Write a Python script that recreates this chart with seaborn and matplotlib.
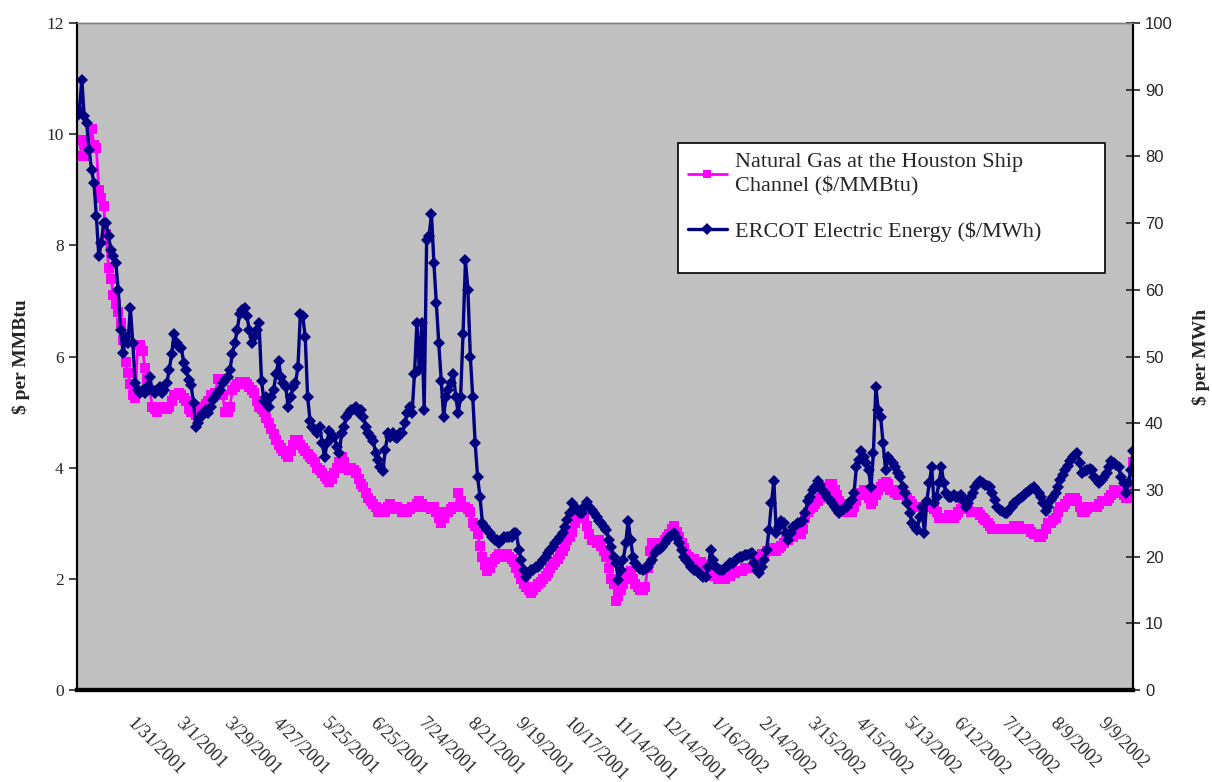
import numpy as np
import pandas as pd
import matplotlib
matplotlib.use("Agg")
import matplotlib.pyplot as plt
import matplotlib.transforms as mtransforms
from matplotlib.patches import Rectangle
import seaborn as sns

# daily prices, one row = 20 trading days
gas = [
    9.9, 9.9, 9.6, 9.6, 9.8, 9.9, 10.1, 9.8, 9.75, 9.0, 8.85, 8.7, 8.2, 7.6, 7.4, 7.1, 6.95, 6.8, 6.6, 6.3,
    5.9, 5.7, 5.5, 5.3, 5.25, 6.2, 6.2, 6.1, 5.8, 5.6, 5.4, 5.1, 5.05, 5.0, 5.05, 5.1, 5.1, 5.05, 5.1, 5.2,
    5.3, 5.3, 5.35, 5.3, 5.25, 5.2, 5.05, 5.0, 5.0, 4.95, 5.0, 5.05, 5.1, 5.15, 5.2, 5.3, 5.3, 5.35, 5.6, 5.6,
    5.3, 5.0, 5.0, 5.1, 5.4, 5.45, 5.5, 5.55, 5.5, 5.55, 5.5, 5.45, 5.4, 5.35, 5.2, 5.1, 5.05, 5.0, 4.9, 4.8,
    4.7, 4.6, 4.5, 4.4, 4.35, 4.3, 4.25, 4.2, 4.3, 4.4, 4.5, 4.5, 4.4, 4.35, 4.3, 4.25, 4.2, 4.15, 4.1, 4.0,
    3.95, 3.9, 3.85, 3.8, 3.75, 3.8, 3.9, 4.0, 4.1, 4.2, 4.1, 4.0, 3.95, 4.0, 3.95, 3.9, 3.8, 3.7, 3.65, 3.55,
    3.45, 3.4, 3.35, 3.3, 3.2, 3.2, 3.25, 3.2, 3.3, 3.35, 3.3, 3.25, 3.3, 3.25, 3.2, 3.25, 3.2, 3.25, 3.3, 3.3,
    3.35, 3.4, 3.35, 3.3, 3.3, 3.3, 3.25, 3.3, 3.2, 3.1, 3.0, 3.1, 3.2, 3.2, 3.25, 3.3, 3.3, 3.55, 3.4, 3.3,
    3.3, 3.25, 3.2, 3.0, 2.95, 2.8, 2.6, 2.4, 2.25, 2.15, 2.2, 2.3, 2.35, 2.4, 2.45, 2.4, 2.4, 2.45, 2.4, 2.35,
    2.3, 2.2, 2.1, 2.0, 1.9, 1.85, 1.8, 1.75, 1.8, 1.85, 1.9, 1.95, 2.0, 2.05, 2.1, 2.2, 2.25, 2.3, 2.35, 2.45,
    2.5, 2.6, 2.7, 2.75, 2.85, 3.0, 3.1, 3.2, 3.2, 3.1, 2.95, 2.8, 2.7, 2.7, 2.65, 2.7, 2.6, 2.5, 2.4, 2.2,
    2.0, 1.9, 1.6, 1.7, 1.8, 1.9, 2.0, 2.1, 2.15, 2.0, 1.9, 1.85, 1.8, 1.8, 1.85, 2.2, 2.5, 2.65, 2.6, 2.6,
    2.65, 2.65, 2.7, 2.75, 2.8, 2.9, 2.95, 2.85, 2.75, 2.65, 2.55, 2.45, 2.4, 2.35, 2.35, 2.3, 2.3, 2.3, 2.25, 2.2,
    2.15, 2.1, 2.05, 2.05, 2.0, 2.0, 2.0, 2.0, 2.05, 2.05, 2.1, 2.1, 2.15, 2.15, 2.15, 2.2, 2.2, 2.2, 2.2, 2.3,
    2.35, 2.4, 2.45, 2.45, 2.5, 2.5, 2.5, 2.55, 2.5, 2.55, 2.6, 2.65, 2.7, 2.7, 2.75, 2.75, 2.8, 2.8, 2.8, 2.9,
    3.1, 3.2, 3.25, 3.3, 3.35, 3.4, 3.45, 3.55, 3.6, 3.65, 3.7, 3.7, 3.6, 3.5, 3.4, 3.35, 3.3, 3.2, 3.2, 3.2,
    3.3, 3.4, 3.5, 3.55, 3.6, 3.55, 3.45, 3.35, 3.4, 3.5, 3.6, 3.65, 3.7, 3.75, 3.7, 3.6, 3.6, 3.55, 3.5, 3.5,
    3.5, 3.5, 3.45, 3.4, 3.35, 3.3, 3.3, 3.3, 3.3, 3.3, 3.3, 3.3, 3.3, 3.25, 3.2, 3.1, 3.1, 3.1, 3.1, 3.15,
    3.1, 3.1, 3.15, 3.2, 3.25, 3.3, 3.3, 3.25, 3.2, 3.2, 3.2, 3.2, 3.15, 3.1, 3.05, 3.0, 2.95, 2.9, 2.9, 2.9,
    2.9, 2.9, 2.9, 2.9, 2.9, 2.9, 2.95, 2.95, 2.95, 2.9, 2.9, 2.9, 2.9, 2.85, 2.8, 2.8, 2.75, 2.75, 2.8, 2.9,
    3.0, 3.0, 3.05, 3.1, 3.2, 3.3, 3.3, 3.35, 3.4, 3.45, 3.45, 3.45, 3.4, 3.3, 3.2, 3.2, 3.25, 3.3, 3.3, 3.3,
    3.3, 3.35, 3.4, 3.4, 3.4, 3.45, 3.5, 3.6, 3.6, 3.55, 3.55, 3.5, 3.45, 3.45, 3.5, 4.1,
]

elec = [
    86, 87, 91.5, 86, 85, 81, 78, 76, 71, 65, 67, 70, 70, 68, 66, 65, 64, 60, 54, 50.5,
    53, 52, 57.3, 52, 46, 45, 44.5, 45, 44.5, 45.5, 46.9, 45, 44.5, 45, 45.5, 44.5, 45, 46, 48, 50.4,
    53.4, 52, 51.5, 51.3, 49, 48, 46.5, 45.7, 43, 39.5, 40, 41, 41.5, 42, 41.5, 42.5, 43.5, 44, 44.5, 45,
    46, 46.5, 47, 48, 50.4, 52, 54, 56.4, 57, 57.3, 56, 54, 52, 53, 54, 55, 46.4, 43.4, 44, 42.4,
    44, 45, 47.4, 49.4, 47, 46, 45.4, 42.4, 44, 45.4, 46, 48.4, 56.4, 56, 53, 43.9, 40.4, 39.5, 39, 38.5,
    39.4, 37, 34.9, 37, 38.9, 38, 37.9, 36.5, 35.5, 38.5, 39.5, 40.9, 41.5, 42, 42.2, 42.4, 41.5, 42, 41, 39.4,
    38.5, 38, 37.4, 35.5, 34.5, 33.5, 32.9, 36, 38.5, 38, 38.5, 38, 37.8, 38.5, 38.5, 40, 41.5, 42.4, 41.5, 47.4,
    55, 48, 55, 42, 67.4, 68, 71.4, 64, 58, 52, 46.4, 41, 44, 45, 46, 47.4, 44, 41.5, 44, 53.4,
    64.4, 60, 50, 43.9, 37, 31.9, 28.9, 25, 24.5, 24, 23.5, 23, 22.5, 22.5, 22, 22.5, 22.9, 23, 23, 22.9,
    23.5, 23.5, 21, 19.5, 18, 16.9, 17.5, 18, 18, 18.4, 18.5, 19, 19.5, 20, 20.5, 21, 21.5, 22, 22.5, 23,
    23.5, 24.4, 25.5, 26.5, 28, 27.5, 27, 26.5, 26.5, 27.5, 28.2, 27.5, 27, 26.5, 26, 25.4, 25, 24.5, 24, 22.5,
    21.4, 20, 19, 16.5, 18, 19.5, 22, 25.4, 22.5, 20, 19, 18.5, 18.2, 18, 18.2, 18.5, 19, 19.5, 20.5, 21,
    21.2, 21.4, 22, 22.5, 23, 23.2, 23.5, 22.8, 22, 21, 20, 19.5, 19, 18.5, 18, 18, 17.5, 17.2, 17, 16.9,
    18.5, 21, 19.5, 18.4, 18.2, 18, 18, 18.3, 18.6, 19, 19, 19.3, 19.6, 19.9, 20, 20.2, 20.3, 20.4, 20.5, 19,
    18, 17.5, 18.5, 19.5, 21, 24, 28, 31.4, 23.5, 24.5, 25.4, 25, 23.5, 22.5, 23.5, 24.5, 24.8, 25, 25.2, 25.4,
    26.5, 28.4, 29, 30, 30.5, 31.4, 30.8, 30, 29.5, 29, 28.5, 28, 27.5, 27, 26.5, 27, 27.2, 27.5, 28, 28.5,
    29.5, 33.4, 34.5, 35.9, 35, 34, 33, 30.4, 35.5, 45.4, 42, 40.9, 37, 33, 35, 34.5, 34, 33.4, 32.5, 31.9,
    30.5, 29.5, 28, 26.5, 25, 24.5, 24, 26, 27.4, 23.5, 28.4, 31, 33.4, 28, 29, 31, 33.4, 31, 29.5, 29,
    29, 29.2, 29, 29, 29.3, 28.5, 27.4, 28, 29, 29.5, 30.5, 31, 31.4, 31, 30.8, 30.6, 30.4, 29.5, 28.5, 27.4,
    27, 26.8, 26.6, 26.5, 27, 27.5, 28, 28.4, 28.7, 29, 29.3, 29.6, 29.9, 30.2, 30.4, 30, 29.5, 29, 28, 26.9,
    27.5, 28.5, 29, 29.5, 30.5, 31.5, 32.2, 33, 33.6, 34.3, 34.9, 35.3, 35.6, 34, 32.5, 32.8, 33, 33.2, 33, 32,
    31.5, 31, 31.5, 32, 32.5, 33.5, 34.4, 34, 33.7, 33.4, 32, 31, 29.5, 31, 33, 35.9,
]

date_labels = ['1/31/2001', '3/1/2001', '3/29/2001', '4/27/2001', '5/25/2001', '6/25/2001',
               '7/24/2001', '8/21/2001', '9/19/2001', '10/17/2001', '11/14/2001', '12/14/2001',
               '1/16/2002', '2/14/2002', '3/15/2002', '4/15/2002', '5/13/2002', '6/12/2002',
               '7/12/2002', '8/9/2002', '9/9/2002']
label_step = 20  # one date label every 20 trading days

gas_name = 'Natural Gas at the Houston Ship\nChannel ($/MMBtu)'
elec_name = 'ERCOT Electric Energy ($/MWh)'

df = pd.DataFrame({'day': np.arange(len(gas)), 'gas': gas, 'elec': elec})

sns.set_theme(style='white')
plt.rcParams['font.family'] = ['Liberation Serif', 'DejaVu Serif']

fig, ax = plt.subplots(figsize=(12.12, 7.82), dpi=100)
fig.subplots_adjust(left=0.0635, right=0.935, top=0.9706, bottom=0.1176)
ax.set_facecolor('#C0C0C0')
ax2 = ax.twinx()

sns.lineplot(data=df, x='day', y='gas', ax=ax, color='#FF00FF', linewidth=2,
             marker='s', markersize=7.5, markeredgewidth=0, legend=False)
sns.lineplot(data=df, x='day', y='elec', ax=ax2, color='#000080', linewidth=2.4,
             marker='D', markersize=5.8, markeredgewidth=0, legend=False)

ax.set_xlim(0, len(gas) - 1)
ax.set_ylim(0, 12)
ax2.set_ylim(0, 100)
ax.set_yticks(np.arange(0, 13, 2))
ax2.set_yticks(np.arange(0, 101, 10))

ticks = [label_step * (k + 1) for k in range(len(date_labels))]
ax.set_xticks(ticks)
ax.set_xticks(np.arange(0, len(gas), 3), minor=True)
ax.tick_params(axis='x', which='major', direction='in', length=4, width=0.8, pad=16)
ax.tick_params(axis='x', which='minor', direction='in', length=4, width=0.8)
ax.tick_params(axis='y', direction='out', length=6, width=1.2, labelsize=12.5, left=True)
ax2.tick_params(axis='y', direction='inout', length=10, width=1.2, labelsize=12,
                right=True, labelfontfamily='Liberation Sans')
ax.set_xticklabels(date_labels, rotation=-45, ha='left', va='top',
                   rotation_mode='anchor', fontsize=13)
# nudge the slanted date labels right, as in the original
shift = mtransforms.ScaledTranslation(0.10, -0.03, fig.dpi_scale_trans)
for lab in ax.get_xticklabels():
    lab.set_transform(lab.get_transform() + shift)

ax.set_xlabel('')
ax.set_ylabel('$ per MMBtu', fontsize=14, fontweight='bold', labelpad=12)
ax2.set_ylabel('$ per MWh', fontsize=14, fontweight='bold', labelpad=14)

for a in (ax, ax2):
    a.spines['top'].set_color('#808080')
    a.spines['top'].set_linewidth(1)
    a.spines['bottom'].set_color('black')
    a.spines['bottom'].set_linewidth(3)
    a.spines['left'].set_color('black')
    a.spines['left'].set_linewidth(1.5)
    a.spines['right'].set_color('black')
    a.spines['right'].set_linewidth(1.5)

# legend box
box = Rectangle((0.569, 0.625), 0.404, 0.195, transform=ax2.transAxes,
                facecolor='white', edgecolor='black', linewidth=1.2, zorder=5)
ax2.add_patch(box)
leg = ax2.legend([ax.lines[0], ax2.lines[0]], [gas_name, elec_name],
                 loc='upper left', bbox_to_anchor=(0.569, 0.82),
                 borderaxespad=0, fontsize=16, frameon=False, borderpad=0.45,
                 labelspacing=1.1, handlelength=1.75, handletextpad=0.35)
leg.set_zorder(6)
for t in leg.get_texts():
    t.set_linespacing(1.3)
for h in leg.legend_handles:
    h.set_markersize(6)

fig.savefig('out.png', dpi=100)
